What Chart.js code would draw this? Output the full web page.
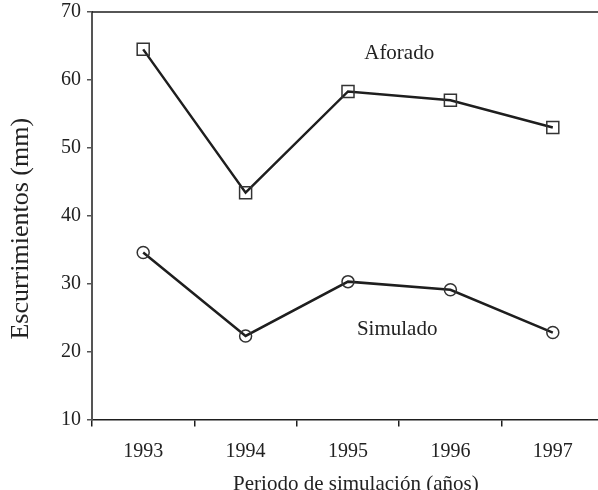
<!DOCTYPE html>
<html>
<head>
<meta charset="utf-8">
<script src="https://cdn.jsdelivr.net/npm/chart.js@4"></script>
<style>
  html, body { margin: 0; padding: 0; overflow: hidden; background: #fff; }
  #chart { display: block; width: 606px; height: 490px; }
</style>
</head>
<body>
<canvas id="chart" width="606" height="490"></canvas>
<script>
/* ──── Datos ─────────────────────────────────────────── */
const years    = ['1993', '1994', '1995', '1996', '1997'];
const aforado  = [64.5, 43.4, 58.3, 57.0, 53.0];
const simulado = [34.6, 22.3, 30.3, 29.1, 22.8];
const yTicks   = [10, 20, 30, 40, 50, 60, 70];

const FONT  = 'Liberation Serif';
const INK   = '#1e1e1e';

/* etiquetas dentro del gráfico: [texto, índice x, valor y (línea base)] */
const labels = [
  ['Aforado',  2.5,  63.1],
  ['Simulado', 2.48, 22.4],
];

const extras = {
  id: 'extras',
  afterDraw(chart) {
    const { ctx, chartArea: a, scales: { x, y } } = chart;
    ctx.save();
    // línea superior del marco
    ctx.strokeStyle = INK;
    ctx.lineWidth = 1.5;
    ctx.beginPath();
    ctx.moveTo(a.left, a.top);
    ctx.lineTo(a.right, a.top);
    ctx.stroke();
    // nombres de las series
    ctx.fillStyle = '#222';
    ctx.font = '21px "' + FONT + '"';
    ctx.textAlign = 'center';
    ctx.textBaseline = 'alphabetic';
    labels.forEach(([t, xi, yv]) => {
      ctx.fillText(t, x.getPixelForValue(xi), y.getPixelForValue(yv));
    });
    ctx.restore();
  },
};

new Chart(document.getElementById('chart'), {
  type: 'line',
  data: {
    labels: years,
    datasets: [
      {
        label: 'Aforado',
        data: aforado,
        borderColor: INK,
        borderWidth: 2.5,
        pointStyle: 'rect',
        pointRadius: 8.5,
        pointBorderColor: '#333',
        pointBorderWidth: 1.5,
        pointBackgroundColor: 'transparent',
        tension: 0,
      },
      {
        label: 'Simulado',
        data: simulado,
        borderColor: INK,
        borderWidth: 2.5,
        pointStyle: 'circle',
        pointRadius: 6,
        pointBorderColor: '#333',
        pointBorderWidth: 1.5,
        pointBackgroundColor: 'transparent',
        tension: 0,
      },
    ],
  },
  options: {
    responsive: false,
    animation: false,
    // el eje x del original sigue más allá del borde derecho (lienzo de 606 px)
    layout: { autoPadding: false, padding: { top: 12, right: 2, left: 0, bottom: 0 } },
    plugins: { legend: { display: false }, tooltip: { enabled: false } },
    scales: {
      x: {
        offset: true,
        grid: { offset: true, drawOnChartArea: false, tickLength: 7, color: INK, lineWidth: 1.5 },
        border: { color: INK, width: 1.5 },
        ticks: { color: '#222', padding: 13, font: { family: FONT, size: 20 } },
        title: {
          display: true,
          // espacios iniciales: el título original no está centrado en el eje
          text: '   Periodo de simulación (años)',
          color: '#222',
          font: { family: FONT, size: 21 },
          padding: { top: 0, bottom: -7 },
        },
        afterFit(s) { s.height = 70.5; s.paddingLeft = 0; s.paddingRight = 0; },
      },
      y: {
        min: 10,
        max: 70,
        afterBuildTicks(s) { s.ticks = yTicks.map(v => ({ value: v })); },
        grid: { drawOnChartArea: false, tickLength: 5, color: '#555', lineWidth: 1.5 },
        border: { color: '#555', width: 2 },
        ticks: { color: '#222', padding: 6, font: { family: FONT, size: 20 } },
        title: {
          display: true,
          text: 'Escurrimientos (mm)    ',
          color: '#222',
          font: { family: FONT, size: 26 },
          padding: { top: 6, bottom: 0 },
        },
        afterFit(s) { s.width = 92; s.paddingTop = 0; s.paddingBottom = 0; },
      },
    },
  },
  plugins: [extras],
});
</script>
</body>
</html>
